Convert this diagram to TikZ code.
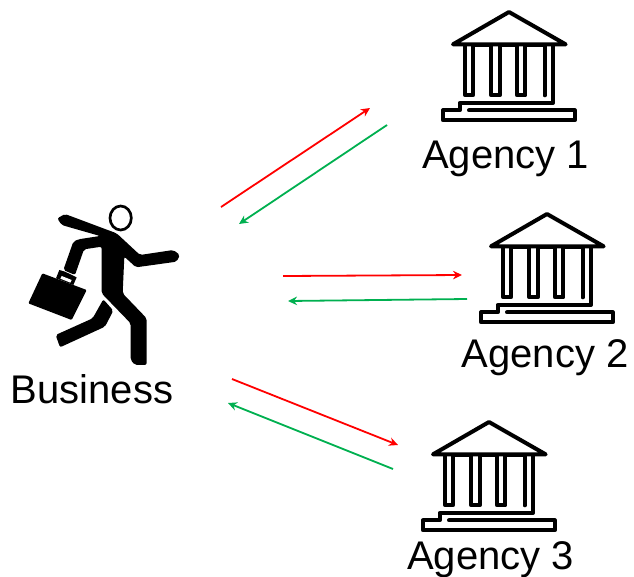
\documentclass[tikz,border=0pt]{standalone}
\usepackage{fontspec}
\setmainfont{Liberation Sans}
\usetikzlibrary{arrows.meta}
\definecolor{flowgreen}{HTML}{00B050}
\tikzset{
  every picture/.style={x=1pt,y=-1pt},
  lbl/.style={font=\fontsize{40}{40}\selectfont,inner sep=0pt,text=black},
  req/.style={draw=red,line width=1.8pt,-{Stealth[length=9pt,width=8.5pt]}},
  resp/.style={draw=flowgreen,line width=1.8pt,-{Stealth[length=9pt,width=8.5pt]}},
  bld/.style={draw=black,line width=4pt,line join=round,line cap=round,fill=none},
}
\newcommand{\agencybuilding}[2]{%
  \begin{scope}[shift={(#1,#2)},x=0.3333pt,y=-0.3333pt]
    \draw[bld] (0,0) -- (-168,97) -- (170,97) -- cycle;
    \draw[bld] (-131,100) -- (-131,250) -- (-108,250) -- (-108,100) -- (-53,100) -- (-53,250) -- (-28,250) -- (-28,100) -- (24,100) -- (24,250) -- (49,250) -- (49,100) -- (107,100) -- (107,250);
    \draw[bld] (132,100) -- (132,273) -- (-148,273) -- (-148,295) -- (-198,295) -- (-198,325) -- (197,325) -- (197,295) -- (-120,295);
  \end{scope}}
\begin{document}
\begin{tikzpicture}
\useasboundingbox (0,0) rectangle (634,576);
\fill[white] (0,0) rectangle (634,576);
% person
\begin{scope}[shift={(10,190)},x=0.3333pt,y=-0.3333pt]
  \draw[black,line width=2.7pt] (332,84) ellipse [x radius=32,y radius=36];
  \fill[black,rounded corners=2pt] (142,85) -- (165,72) -- (320,130) -- (390,195) -- (490,180) -- (510,195) -- (500,215) -- (378,232) -- (343,200) -- (338,310) -- (410,385) -- (410,525) -- (375,525) -- (362,510) -- (362,400) -- (275,310) -- (275,170) -- (222,178) -- (195,255) -- (160,240) -- (190,155) -- (205,148) -- (270,138) -- (155,105) -- cycle;
  \fill[black,rounded corners=1pt] (97,250) -- (230,300) -- (185,390) -- (55,340) -- cycle;
  \fill[black] (138,265) -- (148,240) -- (165,245) -- (200,262) -- (190,285) -- cycle;
  \fill[white] (155,258) -- (185,270) -- (181,278) -- (151,266) -- cycle;
  \fill[black,rounded corners=2pt] (280,328) -- (310,362) -- (285,410) -- (150,472) -- (137,435) -- (248,385) -- cycle;
\end{scope}
\agencybuilding{509}{12}
\agencybuilding{547}{214}
\agencybuilding{489}{422}
\node[lbl,anchor=base] (business) at (92,403) {Business};
\node[lbl,anchor=base] (agency1) at (505.5,168) {Agency 1};
\node[lbl,anchor=base] (agency2) at (545,367) {Agency 2};
\node[lbl,anchor=base] (agency3) at (490.5,569) {Agency 3};
\coordinate (a1s) at (221,207); \coordinate (a1e) at (370,108);
\coordinate (b1s) at (387,125); \coordinate (b1e) at (239,224);
\coordinate (a2s) at (283,276); \coordinate (a2e) at (462,275);
\coordinate (b2s) at (467,299); \coordinate (b2e) at (288,301);
\coordinate (a3s) at (232,379); \coordinate (a3e) at (398,445);
\coordinate (b3s) at (393,469); \coordinate (b3e) at (228,403);
\draw[req] (a1s) -- (a1e);
\draw[resp] (b1s) -- (b1e);
\draw[req] (a2s) -- (a2e);
\draw[resp] (b2s) -- (b2e);
\draw[req] (a3s) -- (a3e);
\draw[resp] (b3s) -- (b3e);
\end{tikzpicture}
\end{document}
